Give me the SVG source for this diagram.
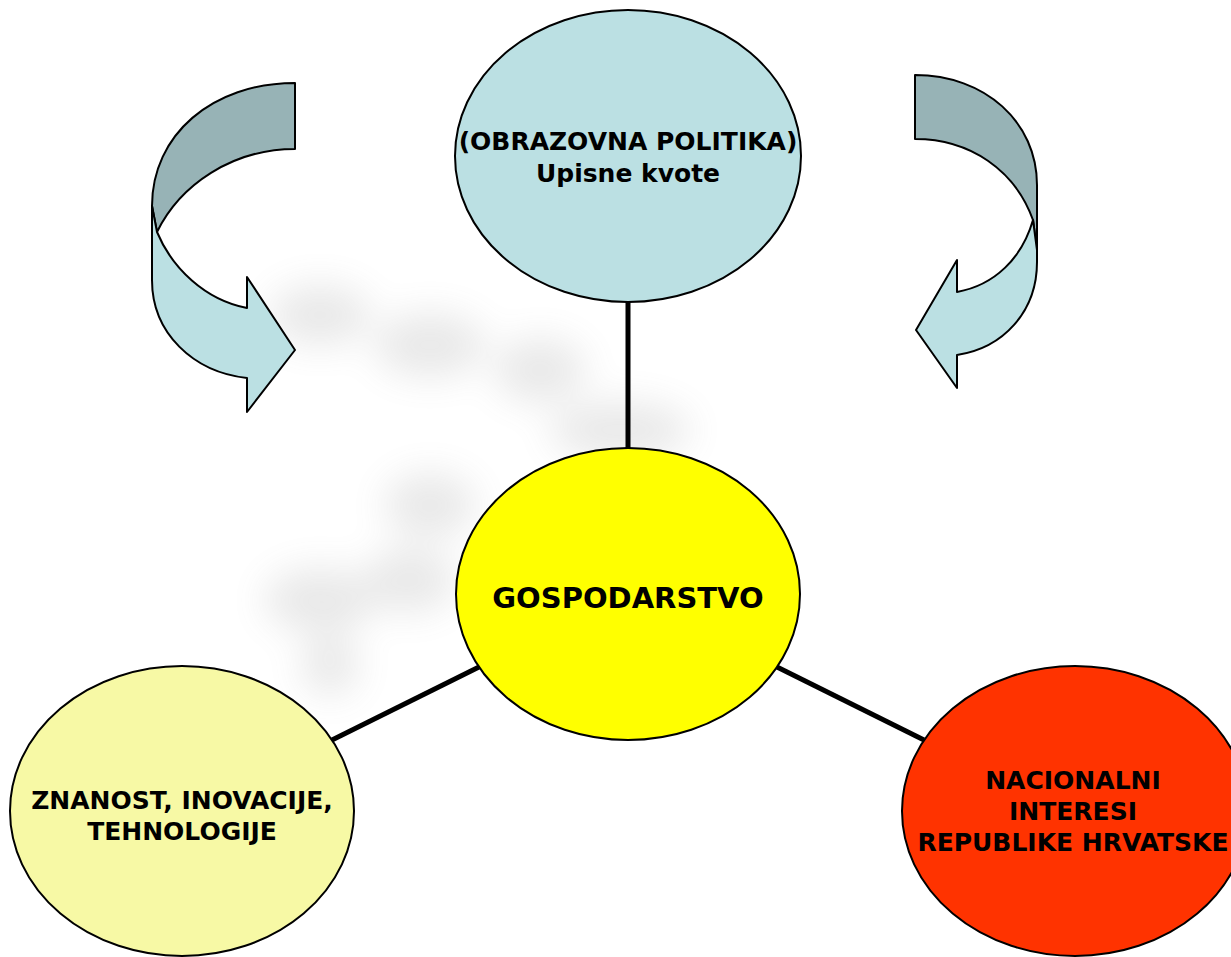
<svg xmlns="http://www.w3.org/2000/svg" width="1231" height="957" viewBox="0 0 1231 957">
<style>
.node{stroke:#000;stroke-width:2}
.lbl{font-family:"DejaVu Sans",Verdana,sans-serif;font-weight:bold;fill:#000;text-anchor:middle}
.conn{stroke:#000;stroke-width:5;fill:none}
.dark{fill:#97B3B6;stroke:#000;stroke-width:2;stroke-linejoin:round}
.light{fill:#BBE0E3;stroke:#000;stroke-width:2;stroke-linejoin:round}
</style>
<defs>
<filter id="blur" x="-30%" y="-30%" width="160%" height="160%"><feGaussianBlur stdDeviation="18"/></filter>
</defs>
<rect width="1231" height="957" fill="#fff"/>
<g id="watermark" filter="url(#blur)" opacity="0.16" fill="#777">
<ellipse cx="320" cy="315" rx="50" ry="30"/>
<ellipse cx="430" cy="345" rx="55" ry="32"/>
<ellipse cx="540" cy="370" rx="45" ry="32"/>
<ellipse cx="620" cy="430" rx="70" ry="28"/>
<ellipse cx="430" cy="505" rx="45" ry="32"/>
<ellipse cx="320" cy="600" rx="55" ry="32"/>
<ellipse cx="330" cy="665" rx="28" ry="30"/>
<ellipse cx="410" cy="580" rx="45" ry="32"/>
</g>
<g id="connectors">
<line class="conn" x1="628" y1="302" x2="628" y2="448"/>
<line class="conn" x1="332" y1="740" x2="479" y2="667"/>
<line class="conn" x1="777" y1="667" x2="924" y2="740"/>
</g>
<g id="arrow-left">
<path class="dark" d="M295,83 C212,83 152,135 152,206 L157,232 C180,185 232,149 295,149 Z"/>
<path class="light" d="M152,206 L157,232 C172,268 205,300 247,308 L247,277 L295,350 L247,412 L247,378 C193,372 152,333 152,280 Z"/>
</g>
<g id="arrow-right">
<path class="dark" d="M915,75 C985,75 1037,122 1037,185 L1037,250 L1033,220 C1015,170 970,139 915,139 Z"/>
<path class="light" d="M1033,220 C1022,258 995,285 957,292 L957,260 L916,330 L957,388 L957,355 C1003,348 1037,312 1037,262 L1037,250 Z"/>
</g>
<g id="node-obrazovna">
<ellipse class="node" cx="628" cy="156" rx="173" ry="146" fill="#BBE0E3"/>
<text class="lbl" x="628" y="150" font-size="25">(OBRAZOVNA POLITIKA)</text>
<text class="lbl" x="628" y="182" font-size="25">Upisne kvote</text>
</g>
<g id="node-gospodarstvo">
<ellipse class="node" cx="628" cy="594" rx="172" ry="146" fill="#FFFF00"/>
<text class="lbl" x="628" y="608" font-size="29">GOSPODARSTVO</text>
</g>
<g id="node-znanost">
<ellipse class="node" cx="182" cy="811" rx="172" ry="145" fill="#F7F9A5"/>
<text class="lbl" x="182" y="809" font-size="25">ZNANOST, INOVACIJE,</text>
<text class="lbl" x="182" y="840" font-size="25">TEHNOLOGIJE</text>
</g>
<g id="node-nacionalni">
<ellipse class="node" cx="1075" cy="811" rx="173" ry="145" fill="#FF3300"/>
<text class="lbl" x="1073" y="789" font-size="25">NACIONALNI</text>
<text class="lbl" x="1073" y="820" font-size="25">INTERESI</text>
<text class="lbl" x="1073" y="851" font-size="25">REPUBLIKE HRVATSKE</text>
</g>
</svg>
